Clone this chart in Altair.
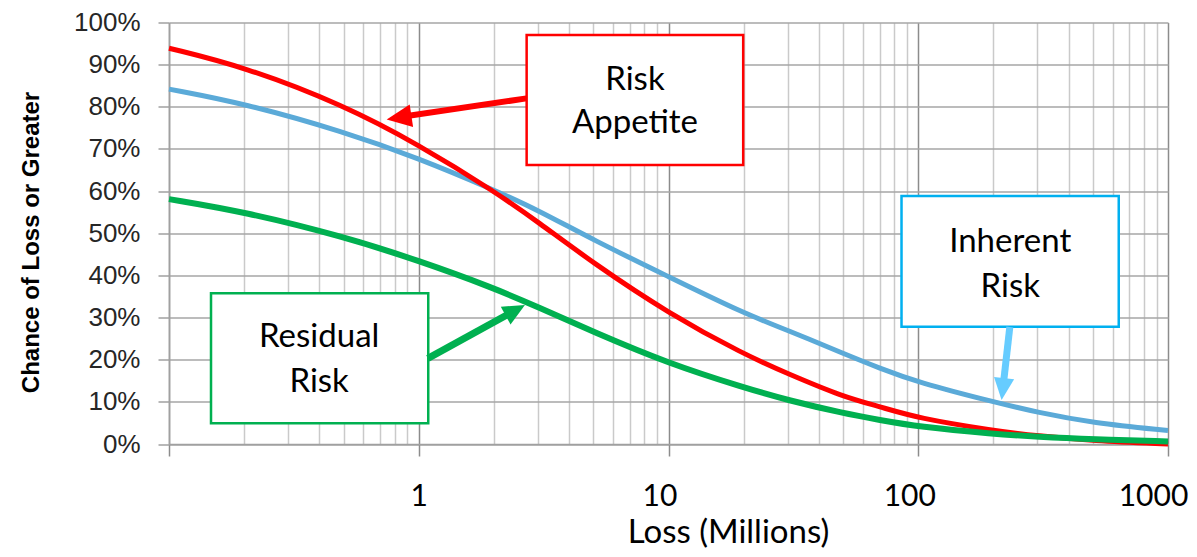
import altair as alt
import pandas as pd

# ---- curve data (loss in millions, chance in %) ----
loss = [0.1, 0.2, 0.5, 1, 2, 3, 5, 10, 20, 30, 50, 70, 100, 200, 300, 500, 1000]
risk_appetite = [93.9, 89.5, 80.4, 71.0, 60.0, 52.7, 42.9, 31.0, 21.3, 16.7, 11.2, 8.9, 6.1, 3.2, 1.9, 0.8, 0.0]
inherent_risk = [84.2, 80.8, 74.1, 67.8, 60.3, 55.5, 48.4, 39.7, 31.0, 27.0, 21.5, 18.0, 14.6, 10.0, 7.5, 5.0, 3.2]
residual_risk = [58.1, 55.1, 49.2, 43.5, 37.0, 32.5, 26.6, 19.1, 13.4, 10.4, 7.3, 5.7, 4.1, 2.4, 1.7, 1.1, 0.6]

series_names = ["Inherent Risk", "Risk Appetite", "Residual Risk"]
series_values = [inherent_risk, risk_appetite, residual_risk]
series_colors = ["#5BAAD8", "#FF0000", "#00B050"]
series_widths = [5, 5, 6]

# ---- axis ticks ----
x_grid_values = [0.1, 0.2, 0.3, 0.4, 0.5, 0.6, 0.7, 0.8, 0.9,
                 1, 2, 3, 4, 5, 6, 7, 8, 9,
                 10, 20, 30, 40, 50, 60, 70, 80, 90,
                 100, 200, 300, 400, 500, 600, 700, 800, 900, 1000]
y_ticks = [0, 10, 20, 30, 40, 50, 60, 70, 80, 90, 100]

# ---- annotation boxes (data coordinates) ----
box_x1 = [2.704, 85.7, 0.1473]
box_x2 = [19.91, 635.0, 1.0915]
box_y1 = [97.04, 58.84, 35.75]
box_y2 = [66.19, 27.83, 4.91]
box_colors = ["#FF0000", "#00B0F0", "#00B050"]

text_lines = ["Risk", "Appetite", "Inherent", "Risk", "Residual", "Risk"]
text_x = [7.34, 7.34, 233.5, 233.5, 0.3993, 0.3993]
text_y = [83.99, 73.7, 45.6, 34.95, 23.08, 12.4]

# ---- arrows ----
arrow_start_x = [2.70, 232.6, 1.088]
arrow_start_y = [82.0, 27.76, 20.33]
arrow_end_x = [0.830, 218.3, 2.416]
arrow_end_y = [77.5, 13.26, 31.6]
arrow_tip_x = [0.744, 215.6, 2.662]
arrow_tip_y = [77.0, 10.44, 32.98]
arrow_angles = [171.5, 96.5, 331.2]
arrow_colors = ["#FF0000", "#66CCFF", "#00B050"]
arrow_widths = [6, 7, 7]
arrow_head_sizes = [2500, 1936, 1936]

XS = alt.Scale(type="log", domain=[0.1, 1000], nice=False)
YS = alt.Scale(domain=[0, 100], nice=False, zero=False)

dec = "abs(log(datum.value)/LN10 - round(log(datum.value)/LN10)) < 0.01"

x_axis = alt.Axis(
    values=x_grid_values,
    labelExpr=f"({dec}) && datum.value >= 1 ? format(datum.value, 'd') : ''",
    labelFont="Lato", labelFontSize=30, labelColor="#000000",
    labelBaseline="alphabetic", labelPadding=49,
    labelOffset={"condition": [
        {"test": "datum.value < 5", "value": 0},
        {"test": "datum.value > 500", "value": -15},
    ], "value": -9},
    labelFlush=False, labelOverlap=False,
    tickSize=12, tickWidth=1.5,
    tickColor={"condition": {"test": dec, "value": "#8C8C8C"}, "value": "transparent"},
    grid=True,
    gridColor={"condition": {"test": dec, "value": "#8C8C8C"}, "value": "#CACACA"},
    gridWidth=1.5,
    domainColor="#A0A0A0", domainWidth=1.5,
    title="Loss (Millions)", titleFont="Lato", titleFontSize=33,
    titleFontWeight="normal", titleColor="#000000",
    titleX=559, titleY=98, titleBaseline="alphabetic", titleAlign="center",
)

y_axis = alt.Axis(
    values=y_ticks,
    labelExpr="datum.value + '%'",
    labelFont="Liberation Sans", labelFontSize=26, labelColor="#262626",
    labelPadding=18, tickSize=11, tickColor="#A0A0A0", tickWidth=1.5,
    grid=True, gridColor="#A6A6A6", gridWidth=1.5,
    domainColor="#A0A0A0", domainWidth=1.5,
    title="Chance of Loss or Greater", titleFont="Liberation Sans",
    titleFontSize=24, titleFontWeight="bold", titleColor="#000000",
    titleAngle=270, titleX=-138, titleY=219.5, titleAlign="center",
    titleBaseline="middle",
)


def X(field):
    return alt.X(field, scale=XS, axis=x_axis)


def Y(field):
    return alt.Y(field, scale=YS, axis=y_axis)


layers = []
for name, vals, col, w in zip(series_names, series_values, series_colors, series_widths):
    df = pd.DataFrame({"loss": loss, "pct": vals, "series": name})
    ch = alt.Chart(df).mark_line(color=col, strokeWidth=w, interpolate="basis").encode(
        x=X("loss:Q"), y=Y("pct:Q"),
    )
    layers.append(ch)

box_df = pd.DataFrame({"loss": box_x1, "x2": box_x2, "pct": box_y1, "y2": box_y2, "col": box_colors})
boxes = alt.Chart(box_df).mark_rect(fill="white", strokeWidth=2.5).encode(
    x=X("loss:Q"), x2="x2:Q",
    y=Y("pct:Q"), y2="y2:Q",
    stroke=alt.Stroke("col:N", scale=None),
)

arr_df = pd.DataFrame({
    "loss": arrow_start_x, "pct": arrow_start_y,
    "ex": arrow_end_x, "ey": arrow_end_y,
    "col": arrow_colors, "w": arrow_widths,
})
shafts = alt.Chart(arr_df).mark_rule().encode(
    x=X("loss:Q"), x2="ex:Q",
    y=Y("pct:Q"), y2="ey:Q",
    color=alt.Color("col:N", scale=None),
    strokeWidth=alt.StrokeWidth("w:Q", scale=None),
)
head_df = pd.DataFrame({
    "loss": arrow_tip_x, "pct": arrow_tip_y,
    "ang": arrow_angles, "col": arrow_colors, "hs": arrow_head_sizes,
})
heads = alt.Chart(head_df).mark_point(
    shape="M0,0L-1,-0.46L-1,0.46Z", filled=True, opacity=1, strokeWidth=0
).encode(
    x=X("loss:Q"), y=Y("pct:Q"),
    color=alt.Color("col:N", scale=None),
    angle=alt.Angle("ang:Q", scale=None),
    size=alt.Size("hs:Q", scale=None),
)

txt_df = pd.DataFrame({"loss": text_x, "pct": text_y, "t": text_lines})
texts = alt.Chart(txt_df).mark_text(
    font="Lato", fontSize=33, baseline="alphabetic", align="center", color="#000000"
).encode(
    x=X("loss:Q"), y=Y("pct:Q"),
    text="t:N",
)

chart = alt.layer(*layers, boxes, shafts, heads, texts).properties(
    width=999, height=421.5,
    autosize="none",
    padding={"left": 161, "top": 14.5, "right": 21, "bottom": 105},
    background="white",
).configure_view(stroke=None)

chart.save("out.html", embed_options={"renderer": "svg", "actions": False})
